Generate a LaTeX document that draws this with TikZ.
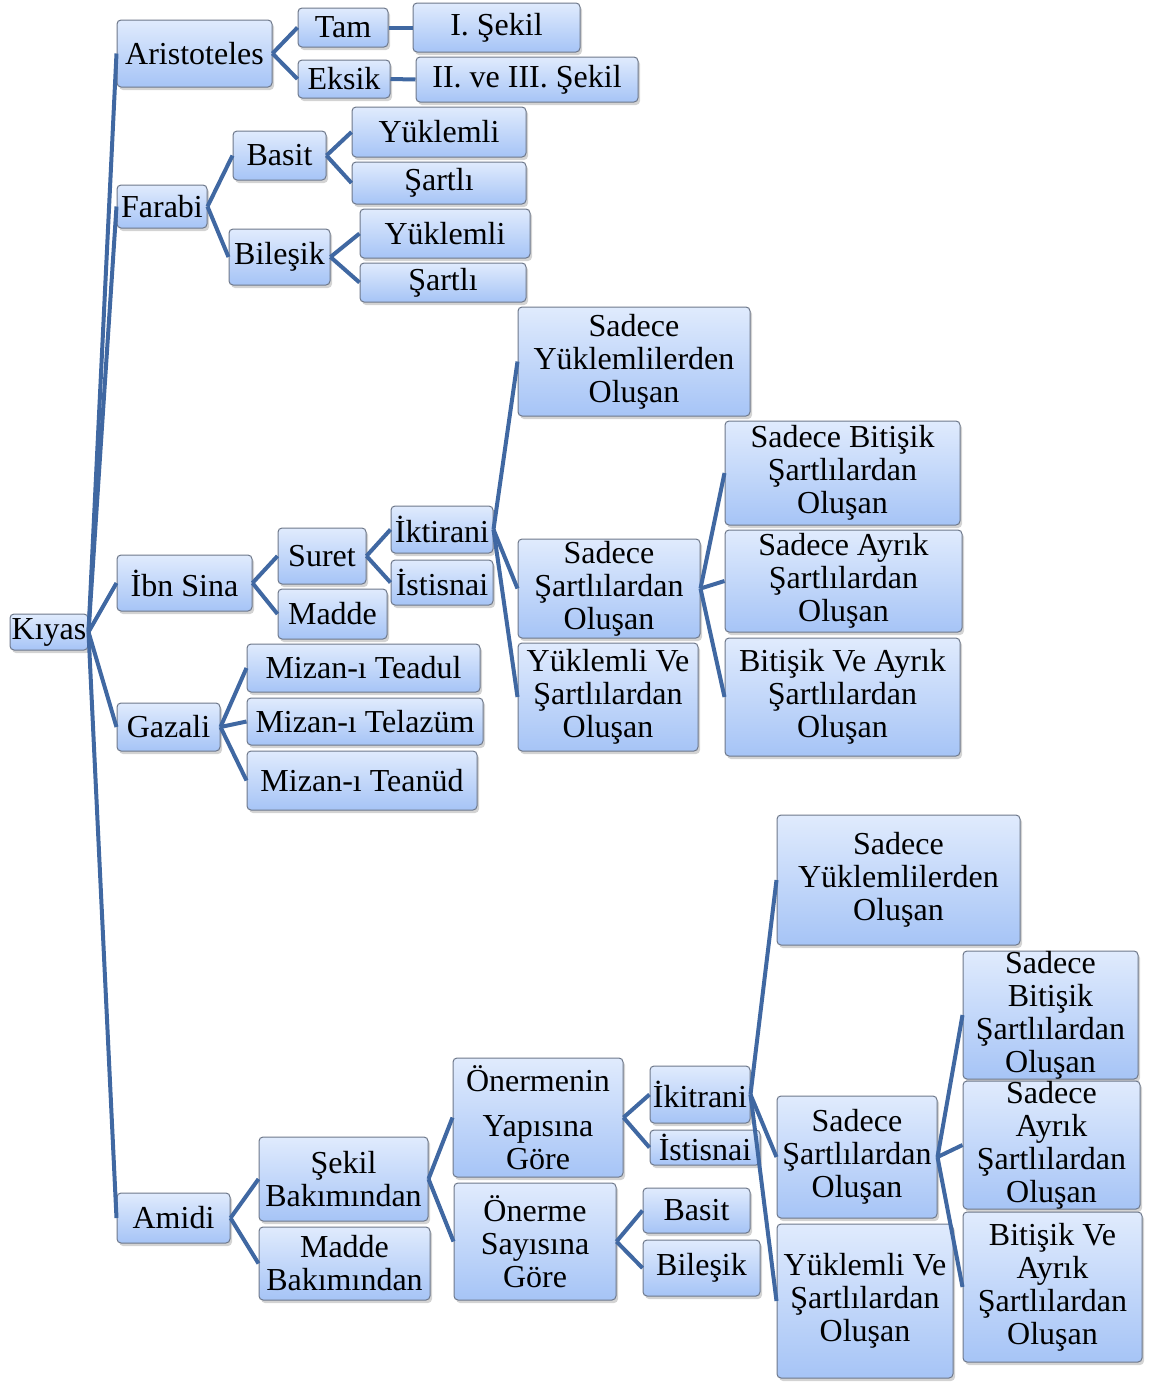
\documentclass[tikz,border=0pt]{standalone}
\usepackage{fontspec}
\setmainfont{Liberation Serif}
\usepackage{tikz}
\usetikzlibrary{shadows}

\definecolor{linkblue}{RGB}{64,104,162}
\definecolor{boxtop}{RGB}{224,235,253}
\definecolor{boxbot}{RGB}{166,196,246}
\definecolor{boxline}{RGB}{110,120,138}

\tikzset{
  box/.style={draw=boxline, line width=0.5pt, rounded corners=2pt,
    top color=boxtop, bottom color=boxbot, align=center, inner sep=0pt,
    font=\fontsize{16}{16.5}\selectfont,
    drop shadow={shadow xshift=1pt, shadow yshift=-1.5pt, opacity=0.35}},
  wh/.style 2 args={minimum width=#1*0.5pt, minimum height=#2*0.5pt},
  link/.style={draw=linkblue, line width=2pt}
}

\begin{document}
\begin{tikzpicture}[x=0.5pt, y=-0.5pt]
  \useasboundingbox (0,0) rectangle (1152,1382);

  % root
  \node[box, wh={78}{36}] (kiyas) at (49,632) {Kıyas};

  % Aristoteles
  \node[box, wh={155}{67}] (aris) at (194.5,53.5) {Aristoteles};
  \node[box, wh={90}{39}] (tam) at (343,27.5) {Tam};
  \node[box, wh={92}{38}] (eksik) at (344,79) {Eksik};
  \node[box, wh={167}{49}] (sekilI) at (496.5,27.5) {I. Şekil};
  \node[box, wh={222}{45}] (sekilII) at (527,79.5) {II. ve III. Şekil};

  % Farabi
  \node[box, wh={90}{43}] (farabi) at (162,206.5) {Farabi};
  \node[box, wh={93}{49}] (fbasit) at (279.5,155.5) {Basit};
  \node[box, wh={101}{56}] (fbilesik) at (279.5,257) {Bileşik};
  \node[box, wh={174}{50}] (fbyuk) at (439,132) {Yüklemli};
  \node[box, wh={174}{42}] (fbsart) at (439,183) {Şartlı};
  \node[box, wh={170}{49}] (fbiyuk) at (445,233.5) {Yüklemli};
  \node[box, wh={166}{39}] (fbisart) at (443,282.5) {Şartlı};

  % Ibn Sina
  \node[box, wh={135}{56}] (ibnsina) at (184.5,583) {İbn Sina};
  \node[box, wh={88}{56}] (suret) at (322,556) {Suret};
  \node[box, wh={109}{50}] (madde) at (332.5,614) {Madde};
  \node[box, wh={102}{47}] (iktirani) at (442,529.5) {İktirani};
  \node[box, wh={102}{45}] (istisnai) at (442,582.5) {İstisnai};
  \node[box, wh={232}{109}] (isyuk) at (634,361.5) {Sadece\\Yüklemlilerden\\Oluşan};
  \node[box, wh={182}{99}] (issart) at (609,588.5) {Sadece\\Şartlılardan\\Oluşan};
  \node[box, wh={180}{108}] (isyvs) at (608,697) {Yüklemli Ve\\Şartlılardan\\Oluşan};
  \node[box, wh={235}{104}] (isbit) at (842.5,473) {Sadece Bitişik\\Şartlılardan\\Oluşan};
  \node[box, wh={237}{102}] (isayr) at (843.5,581) {Sadece Ayrık\\Şartlılardan\\Oluşan};
  \node[box, wh={235}{118}] (isbva) at (842.5,697) {Bitişik Ve Ayrık\\Şartlılardan\\Oluşan};

  % Gazali
  \node[box, wh={103}{48}] (gazali) at (168.5,727) {Gazali};
  \node[box, wh={233}{48}] (teadul) at (363.5,668) {Mizan-ı Teadul};
  \node[box, wh={236}{47}] (telazum) at (365,721.5) {Mizan-ı Telazüm};
  \node[box, wh={230}{59}] (teanud) at (362,780.5) {Mizan-ı Teanüd};

  % Amidi
  \node[box, wh={113}{50}] (amidi) at (173.5,1218) {Amidi};
  \node[box, wh={169}{84}] (sekilbak) at (343.5,1179) {Şekil\\Bakımından};
  \node[box, wh={171}{73}] (maddebak) at (344.5,1263.5) {Madde\\Bakımından};
  \node[box, wh={170}{119}] (onyap) at (538,1117.5) {Önermenin\\[6pt]Yapısına\\Göre};
  \node[box, wh={162}{117}] (onsay) at (535,1241.5) {Önerme\\Sayısına\\Göre};
  \node[box, wh={100}{57}] (ikitrani) at (700,1094.5) {İkitrani};
  \node[box, wh={110}{35}] (aistisnai) at (705,1147.5) {İstisnai};
  \node[box, wh={107}{45}] (abasit) at (696.5,1210.5) {Basit};
  \node[box, wh={117}{56}] (abilesik) at (701.5,1268) {Bileşik};
  \node[box, wh={243}{130}] (ayuk) at (898.5,880) {Sadece\\Yüklemlilerden\\Oluşan};
  \node[box, wh={160}{122}] (asart) at (857,1157) {Sadece\\Şartlılardan\\Oluşan};
  \node[box, wh={176}{154}] (ayvs) at (865,1301) {Yüklemli Ve\\Şartlılardan\\Oluşan};
  \node[box, wh={175}{126}] (abit) at (1050.5,1015) {Sadece\\Bitişik\\Şartlılardan\\Oluşan};
  \node[box, wh={177}{124}] (aayr) at (1051.5,1145) {Sadece\\Ayrık\\Şartlılardan\\Oluşan};
  \node[box, wh={179}{150}] (abva) at (1052.5,1287) {Bitişik Ve\\Ayrık\\Şartlılardan\\Oluşan};

  % connectors
  \foreach \a/\b in {kiyas/aris, kiyas/farabi, kiyas/ibnsina, kiyas/gazali, kiyas/amidi,
      aris/tam, aris/eksik, tam/sekilI, eksik/sekilII,
      farabi/fbasit, farabi/fbilesik, fbasit/fbyuk, fbasit/fbsart,
      fbilesik/fbiyuk, fbilesik/fbisart,
      ibnsina/suret, ibnsina/madde, suret/iktirani, suret/istisnai,
      iktirani/isyuk, iktirani/issart, iktirani/isyvs,
      issart/isbit, issart/isayr, issart/isbva,
      gazali/teadul, gazali/telazum, gazali/teanud,
      amidi/sekilbak, amidi/maddebak, sekilbak/onyap, sekilbak/onsay,
      onyap/ikitrani, onyap/aistisnai, onsay/abasit, onsay/abilesik,
      ikitrani/ayuk, ikitrani/asart, ikitrani/ayvs,
      asart/abit, asart/aayr, asart/abva}
    \draw[link] (\a.east) -- (\b.west);
\end{tikzpicture}
\end{document}
